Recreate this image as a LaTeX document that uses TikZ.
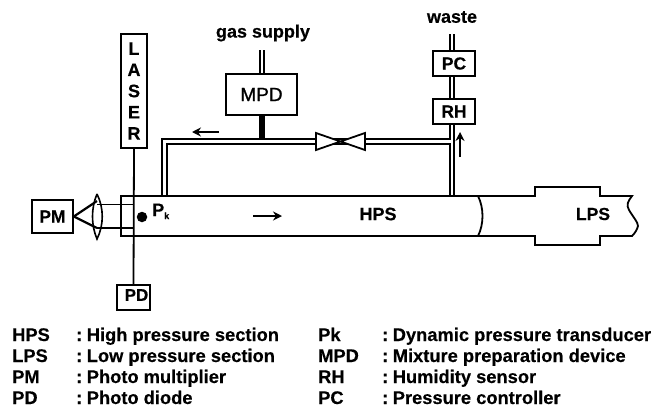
\documentclass[tikz,border=0pt]{standalone}
\usepackage{fontspec}
\setmainfont[BoldFeatures={FakeBold=0.35}]{Liberation Sans}
\usetikzlibrary{arrows.meta}
\tikzset{
  boxn/.style={draw,line width=1.6pt,fill=white,inner sep=0pt,font=\bfseries\fontsize{17.5}{17.5}\selectfont,anchor=center},
  lab/.style={inner sep=0pt,font=\bfseries\fontsize{18.3}{18.3}\selectfont,anchor=base west},
  capt/.style={inner sep=0pt,font=\bfseries\fontsize{18}{18}\selectfont,anchor=center},
  wall/.style={line width=1.8pt,line join=miter},
  flow/.style={line width=1.8pt,-{Stealth[length=9pt,width=9pt]}}
}
\begin{document}
\begin{tikzpicture}[x=1pt,y=-1pt]
\useasboundingbox (0,0) rectangle (655,407);
% tube
\draw[wall] (121,196) -- (535,196) -- (535,187) -- (600,187) -- (600,196) -- (632,196)
  .. controls (628,201) and (626,205) .. (629,210) .. controls (633,217) and (638,222) .. (638,226)
  .. controls (637,230) and (635,233) .. (632,236)
  -- (600,236) -- (600,245) -- (535,245) -- (535,236) -- (121,236) -- cycle;
\draw[line width=1.8pt] (478,196) .. controls (484,208) and (484,224) .. (478,236);
% named anchors
\coordinate (wasteend) at (452,34);
\coordinate (wastefoot) at (452,196);
\coordinate (gasend) at (262,50);
\coordinate (mpdfoot) at (262,140);
\coordinate (pipeleft) at (164,196);
\coordinate (pipecorner) at (164,141);
\coordinate (pipejoin) at (452,141);
\coordinate (valvec) at (340,141);
% pipes
\draw[line width=7pt,line join=miter] (pipeleft) -- (pipecorner) -- (pipejoin);
\draw[white,line width=3pt,line join=miter] (pipeleft |- 0,194.5) -- (pipecorner) -- (pipejoin);
\draw[line width=6pt] (wasteend) -- (wastefoot);
\draw[white,line width=1.2pt] (wasteend) -- (452,195);
\draw[white,line width=3pt] (446,141) -- (450.6,141);
\draw[line width=6pt] (gasend) -- (mpdfoot |- 0,138);
\draw[white,line width=1.2pt] (gasend) -- (262,74);
% valve
\draw[line width=1.8pt,fill=white] (316,133) -- (365,150) -- (365,133) -- (316,150) -- cycle;
% boxes
\node[boxn,minimum width=42pt,minimum height=25pt] (pc) at (454,63.5) {PC};
\node[boxn,minimum width=42pt,minimum height=25pt] (rh) at (454,111.5) {RH};
\node[boxn,minimum width=71pt,minimum height=41pt,font=\fontsize{19}{19}\selectfont\addfontfeature{FakeBold=1.2}] (mpd) at (261.5,94.5) {MPD};
\node[boxn,minimum width=41pt,minimum height=33pt] (pm) at (52.5,216.5) {PM};
\node[boxn,minimum width=33pt,minimum height=25pt] (pd) at (133.5,297.5) {};
\node[inner sep=0pt,font=\bfseries\fontsize{17}{17}\selectfont] (pdt) at (136.5,295) {PD};
\node[boxn,minimum width=26pt,minimum height=114pt,align=center,font=\bfseries\fontsize{18}{21.2}\selectfont] (laser) at (134,91) {L\\A\\S\\E\\R};
% laser beam
\draw[line width=1.8pt] (laser.south) -- (pd.north);
% lens and cone
\coordinate (lenstop) at (97,194);
\coordinate (lensbot) at (97,239);
\draw[line width=1.6pt] (lenstop) .. controls (91,208) and (91,225) .. (lensbot)
   .. controls (104,225) and (104,208) .. (lenstop);
\draw[line width=2.2pt] (pm.east) -- (97,201);
\draw[line width=2.2pt] (pm.east) -- (97,228);
\draw[line width=.9pt] (97,204) -- (133,204);
\draw[line width=2.2pt] (97,228) -- (133,228);
% dot
\node[circle,fill,minimum size=10.5pt,inner sep=0pt] (dot) at (142,217) {};
\node[inner sep=0pt,font=\bfseries\fontsize{18}{18}\selectfont,anchor=base west] (pk) at (152,216) {P\raisebox{-3pt}{\fontsize{9}{9}\selectfont k}};
% flow arrows
\coordinate (a1) at (219,132); \coordinate (a2) at (192,132);
\coordinate (b1) at (460,157); \coordinate (b2) at (460,132);
\coordinate (c1) at (253,216); \coordinate (c2) at (282,216);
\draw[flow] (a1) -- (a2);
\draw[flow] (b1) -- (b2);
\draw[flow] (c1) -- (c2);
% labels
\node[capt] (hps) at (378,214) {HPS};
\node[capt,font=\bfseries\fontsize{17.5}{17.5}\selectfont] (lps) at (593,214) {LPS};
\node[capt] (gas) at (263,33) {gas supply};
\node[capt] (waste) at (452,17) {waste};
% legend
\foreach \y/\a/\b/\c/\d [count=\i] in {
  341/HPS/High pressure section/Pk/Dynamic pressure transducer,
  362/LPS/Low pressure section/MPD/Mixture preparation device,
  383/PM/Photo multiplier/RH/Humidity sensor,
  404/PD/Photo diode/PC/Pressure controller}{
  \node[lab] (la\i) at (12,\y) {\a};
  \node[lab] (lb\i) at (76,\y) {:\hspace{4.5pt}\b};
  \node[lab] (lc\i) at (318,\y) {\c};
  \node[lab] (ld\i) at (382,\y) {:\hspace{4.5pt}\d};
}
\end{tikzpicture}
\end{document}
